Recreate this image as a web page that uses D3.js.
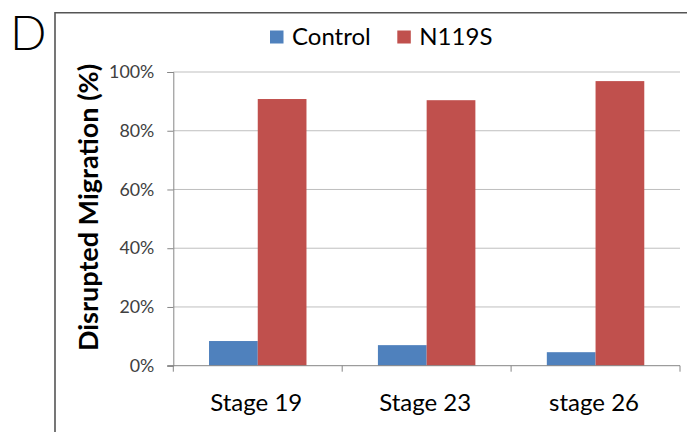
<!DOCTYPE html>
<html><head><meta charset="utf-8">
<script src="https://cdn.jsdelivr.net/npm/d3@7"></script>
<style>html,body{margin:0;padding:0;background:#fff;}svg{display:block;}</style>
</head><body>
<svg id="chart" width="687" height="432"></svg>
<script>
const categories = ["Stage 19", "Stage 23", "stage 26"];
const seriesNames = ["Control", "N119S"];
const controlValues = [0.084, 0.070, 0.046];
const n119sValues = [0.908, 0.904, 0.969];
const yTicks = [0, 0.2, 0.4, 0.6, 0.8, 1.0];
const colors = ["#4F81BD", "#C0504D"];

(function () {
const svg = d3.select("#chart");
const font = "Lato, 'Open Sans', sans-serif";
const pLeft = 173.3, pRight = 680, pTop = 72, pBottom = 365.7;

// frame
svg.append("path").attr("d", "M55,432 V12.7 H690").attr("fill", "none")
  .attr("stroke", "#555").attr("stroke-width", 1.6);
svg.append("text").attr("x", 10).attr("y", 50).text("D")
  .attr("font-family", font).attr("font-weight", 300).attr("font-size", 48).attr("fill", "#000");

const x0 = d3.scaleBand().domain(categories).range([pLeft, pRight]).paddingInner(0.423).paddingOuter(0.2115);
const x1 = d3.scaleBand().domain(seriesNames).range([0, x0.bandwidth()]);
const y = d3.scaleLinear().domain([0, 1]).range([pBottom, pTop]);

// gridlines
svg.append("g").selectAll("line").data(yTicks.filter(d => d > 0)).join("line")
  .attr("x1", pLeft).attr("x2", pRight).attr("y1", d => y(d)).attr("y2", d => y(d))
  .attr("stroke", "#BFBFBF").attr("stroke-width", 1);

// y axis
const yAxis = svg.append("g").attr("transform", `translate(${pLeft},0)`)
  .call(d3.axisLeft(y).tickValues(yTicks).tickFormat(d3.format(".0%")).tickSize(6).tickPadding(13));
yAxis.select(".domain").attr("stroke", "#868686");
yAxis.selectAll(".tick line").attr("stroke", "#868686");
yAxis.selectAll("text").attr("font-family", font).attr("font-size", 17.8).attr("fill", "#404040");

// bars
const data = categories.map((c, i) => ({cat: c, vals: [controlValues[i], n119sValues[i]]}));
const groups = svg.append("g").selectAll("g").data(data).join("g")
  .attr("transform", d => `translate(${x0(d.cat)},0)`);
groups.selectAll("rect").data(d => d.vals.map((v, j) => ({s: seriesNames[j], v, j}))).join("rect")
  .attr("x", d => x1(d.s)).attr("width", x1.bandwidth())
  .attr("y", d => y(d.v)).attr("height", d => y(0) - y(d.v))
  .attr("fill", d => colors[d.j]);

// x axis
const xAxisG = svg.append("g").attr("transform", `translate(0,${pBottom})`);
xAxisG.append("line").attr("x1", pLeft - 6).attr("x2", pRight).attr("stroke", "#868686");
const boundaries = categories.map((c, i) => pLeft + i * x0.step()).concat([pRight]);
xAxisG.selectAll("line.t").data(boundaries).join("line").attr("class", "t")
  .attr("x1", d => d).attr("x2", d => d).attr("y1", 0).attr("y2", 6).attr("stroke", "#868686");
xAxisG.selectAll("text").data(categories).join("text")
  .attr("x", d => x0(d) + x0.bandwidth() / 2 - 1.5).attr("y", 45)
  .attr("text-anchor", "middle").attr("font-family", font).attr("font-size", 24).attr("fill", "#000")
  .text(d => d);

// y label
svg.append("text").attr("transform", `translate(98,207.5) rotate(-90)`)
  .attr("text-anchor", "middle").attr("font-family", font).attr("font-weight", 700)
  .attr("font-size", 27).attr("fill", "#000").text("Disrupted Migration (%)");

// legend
const legend = svg.append("g");
const legX = [270, 397.3];
seriesNames.forEach((s, i) => {
  legend.append("rect").attr("x", legX[i]).attr("y", 30.5).attr("width", 13.5).attr("height", 13).attr("fill", colors[i]);
  legend.append("text").attr("x", legX[i] + 22).attr("y", 44.5).attr("font-family", font)
    .attr("font-size", 24).attr("fill", "#000").text(s);
});
})();
</script>
</body></html>
